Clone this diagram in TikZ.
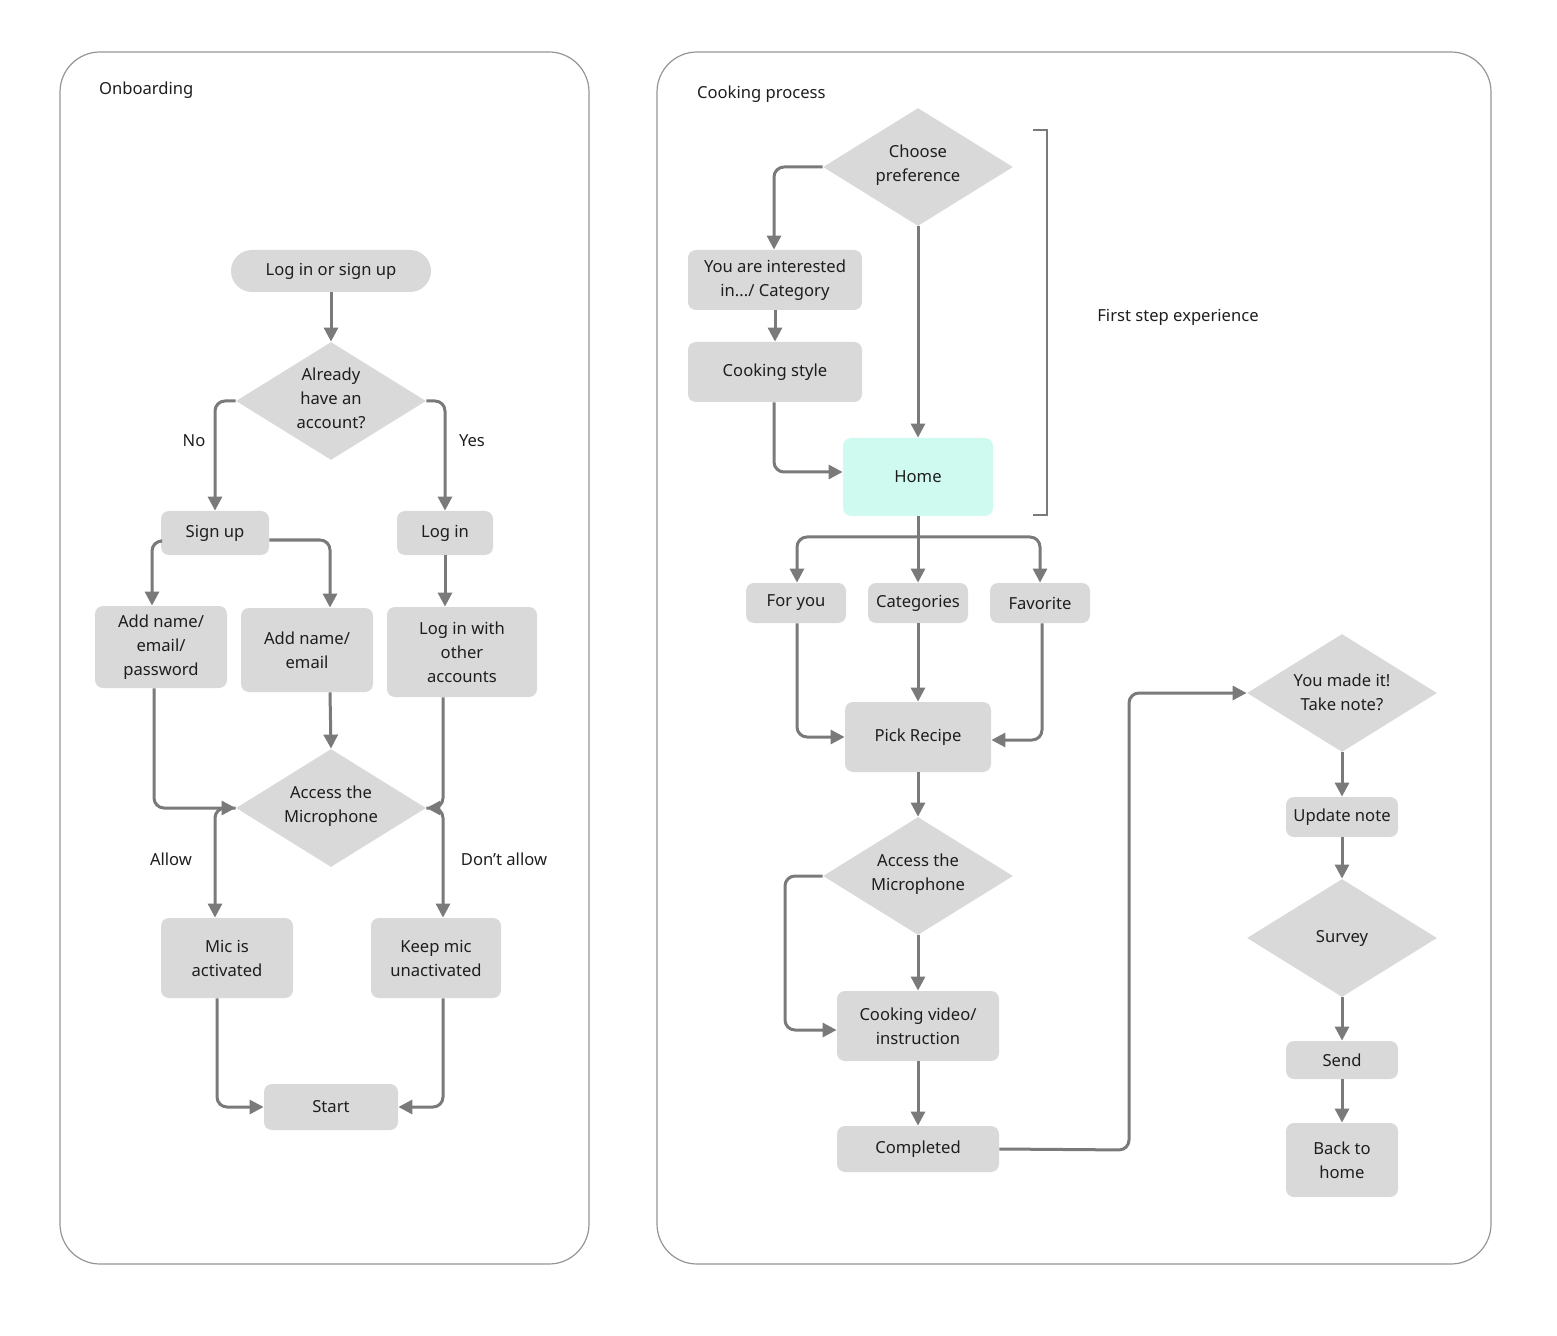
\documentclass[tikz,border=0pt]{standalone}
\usepackage{fontspec}
\setmainfont{Noto Sans}
\usetikzlibrary{arrows.meta,shapes.geometric,calc}
\definecolor{boxg}{HTML}{D9D9D9}
\definecolor{lineg}{HTML}{7A7A7A}
\definecolor{txt}{HTML}{1E1E1E}
\definecolor{homec}{HTML}{CFFAF0}
\begin{document}
\begin{tikzpicture}[x=0.5pt,y=-0.5pt,
  every node/.style={font=\fontsize{8.3}{12}\selectfont,text=txt,align=center},
  box/.style 2 args={draw=none,fill=boxg,rounded corners=4pt,minimum width=#1*0.5pt,minimum height=#2*0.5pt,inner sep=0pt},
  dia/.style={diamond,fill=boxg,draw=none,minimum width=95pt,minimum height=59pt,inner sep=0pt},
  arr/.style={draw=lineg,line width=1.5pt,rounded corners=5pt,-{Triangle[length=7pt,width=7pt]}},
  ln/.style={draw=lineg,line width=1.5pt,rounded corners=5pt},
  panel/.style={draw=lineg!80,line width=0.6pt,rounded corners=20pt}]
\useasboundingbox (0,0) rectangle (1557,1336);
% panels
\draw[panel] (60,52) rectangle (589,1264);
\draw[panel] (657,52) rectangle (1491,1264);
\node[anchor=west] (t1) at (92,90) {Onboarding};
\node[anchor=west] (t2) at (690,94) {Cooking process};
% left nodes
\node[box={200}{42},rounded corners=10.5pt] (login) at (331,271) {Log in or sign up};
\node[dia] (already) at (331,401) {}; \node (alreadyT) at (331,398) {Already\\have an\\account?};
\node[box={108}{44}] (signup) at (215,533) {Sign up};
\node[box={96}{44}] (login2) at (445,533) {Log in};
\node[box={132}{82}] (addnep) at (161,647) {Add name/\\email/\\password};
\node[box={132}{84}] (addne) at (307,650) {Add name/\\email};
\node[box={150}{90}] (other) at (462,652) {Log in with\\other\\accounts};
\node[dia] (acc1) at (331,808) {}; \node (acc1T) at (331,806) {Access the\\Microphone};
\node[box={132}{80}] (mic) at (227,958) {Mic is\\activated};
\node[box={130}{80}] (keep) at (436,958) {Keep mic\\unactivated};
\node[box={134}{46}] (start) at (331,1107) {Start};
\node (no) at (194,441) {No};
\node (yes) at (472,441) {Yes};
\node (allow) at (171,859) {Allow};
\node (dallow) at (504,859) {Don’t allow};
% left edges
\draw[arr] (login.south) -- (already.north);
\draw[arr] (already.west) -| (signup.north);
\draw[arr] (already.east) -| (login2.north);
\draw[arr] ($(signup.west)+(0,8)$) -| ($(addnep.north)+(-9,0)$);
\draw[arr] ($(signup.east)+(0,7)$) -| ($(addne.north)+(23,0)$);
\draw[arr] (login2.south) -- ($(other.north)+(-17,0)$);
\draw[arr] ($(addnep.south)+(-7,0)$) |- (acc1.west);
\draw[arr] ($(addne.south)+(23,0)$) -- (acc1.north);
\draw[arr] ($(other.south)+(-19,0)$) |- (acc1.east);
\draw[arr] (acc1.west) -| ($(mic.north)+(-12,0)$);
\draw[arr] (acc1.east) -| ($(keep.north)+(7,0)$);
\draw[arr] ($(mic.south)+(-10,0)$) |- (start.west);
\draw[arr] ($(keep.south)+(7,0)$) |- (start.east);
% right nodes
\node[dia] (choose) at (918,167) {}; \node (chooseT) at (918,165) {Choose\\preference};
\node[box={174}{60}] (inter) at (775,280) {You are interested\\in.../ Category};
\node[box={174}{60}] (style) at (775,372) {Cooking style};
\node[box={150}{78},fill=homec] (home) at (918,477) {Home};
\draw[draw=lineg,line width=0.8pt] (1033,130) -- (1047,130) -- (1047,515) -- (1033,515);
\node (fse) at (1178,317) {First step experience};
\node[box={100}{40}] (foryou) at (796,603) {For you};
\node[box={100}{40}] (cat) at (918,603) {Categories};
\node[box={100}{40}] (fav) at (1040,603) {Favorite};
\node[box={146}{70}] (pick) at (918,737) {Pick Recipe};
\node[dia] (acc2) at (918,876) {}; \node (acc2T) at (918,874) {Access the\\Microphone};
\node[box={162}{70}] (video) at (918,1026) {Cooking video/\\instruction};
\node[box={162}{46}] (done) at (918,1149) {Completed};
\node[dia] (made) at (1342,693) {}; \node (madeT) at (1342,692) {You made it!\\Take note?};
\node[box={112}{40}] (update) at (1342,817) {Update note};
\node[dia] (survey) at (1342,938) {}; \node (surveyT) at (1342,938) {Survey};
\node[box={112}{38}] (send) at (1342,1060) {Send};
\node[box={112}{74}] (back) at (1342,1160) {Back to\\home};
% right edges
\draw[arr] (choose.west) -| ($(inter.north)+(-1,0)$);
\draw[arr] (choose.south) -- (home.north);
\draw[arr] (inter.south) -- (style.north);
\draw[arr] ($(style.south)+(-1,0)$) |- ($(home.west)+(0,-5)$);
\draw[arr] (home.south) -- (cat.north);
\coordinate (hb) at (918,537);
\draw[arr] (hb) -| ($(foryou.north)+(1,0)$);
\draw[arr] (hb) -| (fav.north);
\draw[arr] ($(foryou.south)+(1,0)$) |- (pick.west);
\draw[arr] (cat.south) -- (pick.north);
\draw[arr] ($(fav.south)+(2,0)$) |- ($(pick.east)+(0,3)$);
\draw[arr] (pick.south) -- (acc2.north);
\coordinate (lp) at (785,876);
\draw[arr] (acc2.west) -- (lp) |- ($(video.west)+(0,4)$);
\draw[arr] (acc2.south) -- (video.north);
\draw[arr] (video.south) -- (done.north);
\coordinate (cp) at (1129,1150);
\draw[arr] (done.east) -- (cp) |- (made.west);
\draw[arr] (made.south) -- (update.north);
\draw[arr] (update.south) -- (survey.north);
\draw[arr] (survey.south) -- (send.north);
\draw[arr] (send.south) -- (back.north);
\end{tikzpicture}
\end{document}
